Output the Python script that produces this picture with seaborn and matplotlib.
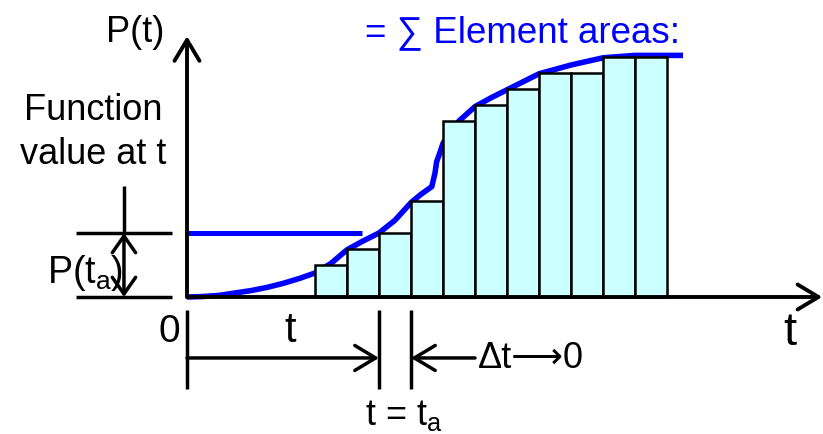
import numpy as np
import pandas as pd
import seaborn as sns
import matplotlib.pyplot as plt

# element strips (t in units of dt, P in arbitrary units)
bar_edges = [4, 5, 6, 7, 8, 9, 10, 11, 12, 13, 14, 15]
bar_heights = [2, 3, 4, 6, 11, 12, 13, 14, 14, 15, 15]

# cumulative curve P(t)
curve_t = [0, 0.5, 1, 1.5, 2, 2.5, 3, 3.5, 4, 4.5, 5, 5.5, 6, 6.5, 7, 7.3, 7.65,
           7.75, 7.8, 7.9, 8.0, 8.2, 8.5, 9, 9.5, 10, 11, 12, 13, 14, 15, 15.5]
curve_p = [0, 0.03, 0.1, 0.25, 0.4, 0.6, 0.85, 1.15, 1.5, 2.1, 2.95, 3.5, 4.0,
           4.8, 5.9, 6.4, 6.9, 7.75, 8.45, 9.0, 9.6, 10.3, 11.0, 11.9, 12.45,
           12.95, 13.95, 14.5, 14.95, 15.1, 15.1, 15.1]

t_a = 6
dt_end = 7
p_ta = 4

sns.set_theme(style='white')
plt.rcParams['font.family'] = ['Liberation Sans', 'DejaVu Sans']
plt.rcParams['mathtext.default'] = 'regular'
plt.rcParams['text.color'] = 'black'

fig = plt.figure(figsize=(8.23, 4.34), dpi=100)
ax = fig.add_axes([0, 0, 1, 1])

# curve sits behind the bars
curve_df = pd.DataFrame({'t': curve_t, 'P': curve_p})
sns.lineplot(data=curve_df, x='t', y='P', color='#0000FF', lw=4, ax=ax,
             sort=False, zorder=2, solid_capstyle='butt')

centers = [(a + b) / 2 for a, b in zip(bar_edges[:-1], bar_edges[1:])]
sns.histplot(x=centers, weights=bar_heights, bins=bar_edges, color='#CCFFFF',
             edgecolor='black', linewidth=1.8, alpha=1, ax=ax, zorder=3)
ax.set_xlim(-187 / 32, (823 - 187) / 32)
ax.set_ylim((297 - 434) / 16, 297 / 16)
ax.axis('off')

# P(t_a) level line
ax.plot([0, 5.47], [p_ta, p_ta], color='#0000FF', lw=3.6, zorder=2,
        solid_capstyle='butt')

blk = dict(color='black', lw=2.5, solid_capstyle='butt')
head = '->,head_length=1.25,head_width=0.75'

# axes with open arrow heads
ax.annotate('', xy=(0, 16.3), xytext=(0, 0),
            arrowprops=dict(arrowstyle=head, lw=2.8, color='black', shrinkA=0, shrinkB=0),
            zorder=4)
ax.annotate('', xy=(19.85, 0), xytext=(0, 0),
            arrowprops=dict(arrowstyle=head, lw=2.8, color='black', shrinkA=0, shrinkB=0),
            zorder=4)

# left-hand height marker
ax.plot([-3.47, -0.47], [p_ta, p_ta], **blk)
ax.plot([-3.47, -0.47], [0, 0], **blk)
ax.plot([-1.97, -1.97], [6.94, p_ta], **blk)
ax.annotate('', xy=(-1.97, 0), xytext=(-1.97, p_ta),
            arrowprops=dict(arrowstyle='<->,head_length=1.0,head_width=0.7', lw=2.5,
                            color='black', shrinkA=0, shrinkB=0))

# time markers under the axis
for xv in [0, t_a, dt_end]:
    ax.plot([xv, xv], [-0.81, -5.75], **blk)
ax.annotate('', xy=(t_a, -3.81), xytext=(0, -3.81),
            arrowprops=dict(arrowstyle=head, lw=2.5, color='black', shrinkA=0, shrinkB=0))
ax.annotate('', xy=(dt_end, -3.81), xytext=(9.0, -3.81),
            arrowprops=dict(arrowstyle=head, lw=2.5, color='black', shrinkA=0, shrinkB=0))

# labels
ax.text(-0.7, (297 - 42) / 16, 'P(t)', fontsize=26, ha='right', va='baseline')
ax.text(-2.94, (297 - 120) / 16, 'Function', fontsize=26, ha='center', va='baseline')
ax.text(-2.94, (297 - 164) / 16, 'value at t', fontsize=26, ha='center', va='baseline')
ax.text((365 - 187) / 32, (297 - 42) / 16, '= \u2211 Element areas:', fontsize=26.5,
        color='#0000FF', ha='left', va='baseline')
ax.text((47 - 187) / 32, (297 - 283) / 16, r'P(t$_{a}$)', fontsize=27,
        ha='left', va='baseline')
ax.text(-0.22, (297 - 342) / 16, '0', fontsize=28, ha='right', va='baseline')
ax.text((290 - 187) / 32, (297 - 342) / 16, 't', fontsize=30, ha='center', va='baseline')
ax.text((790 - 187) / 32, (297 - 345) / 16, 't', fontsize=34, ha='center', va='baseline')
ax.text((478 - 187) / 32, (297 - 368) / 16, '\u0394t\u27f60', fontsize=26,
        ha='left', va='baseline')
ax.text((365 - 187) / 32, (297 - 425) / 16, r't = t$_{a}$', fontsize=26,
        ha='left', va='baseline')

fig.savefig('out.png', dpi=100)
